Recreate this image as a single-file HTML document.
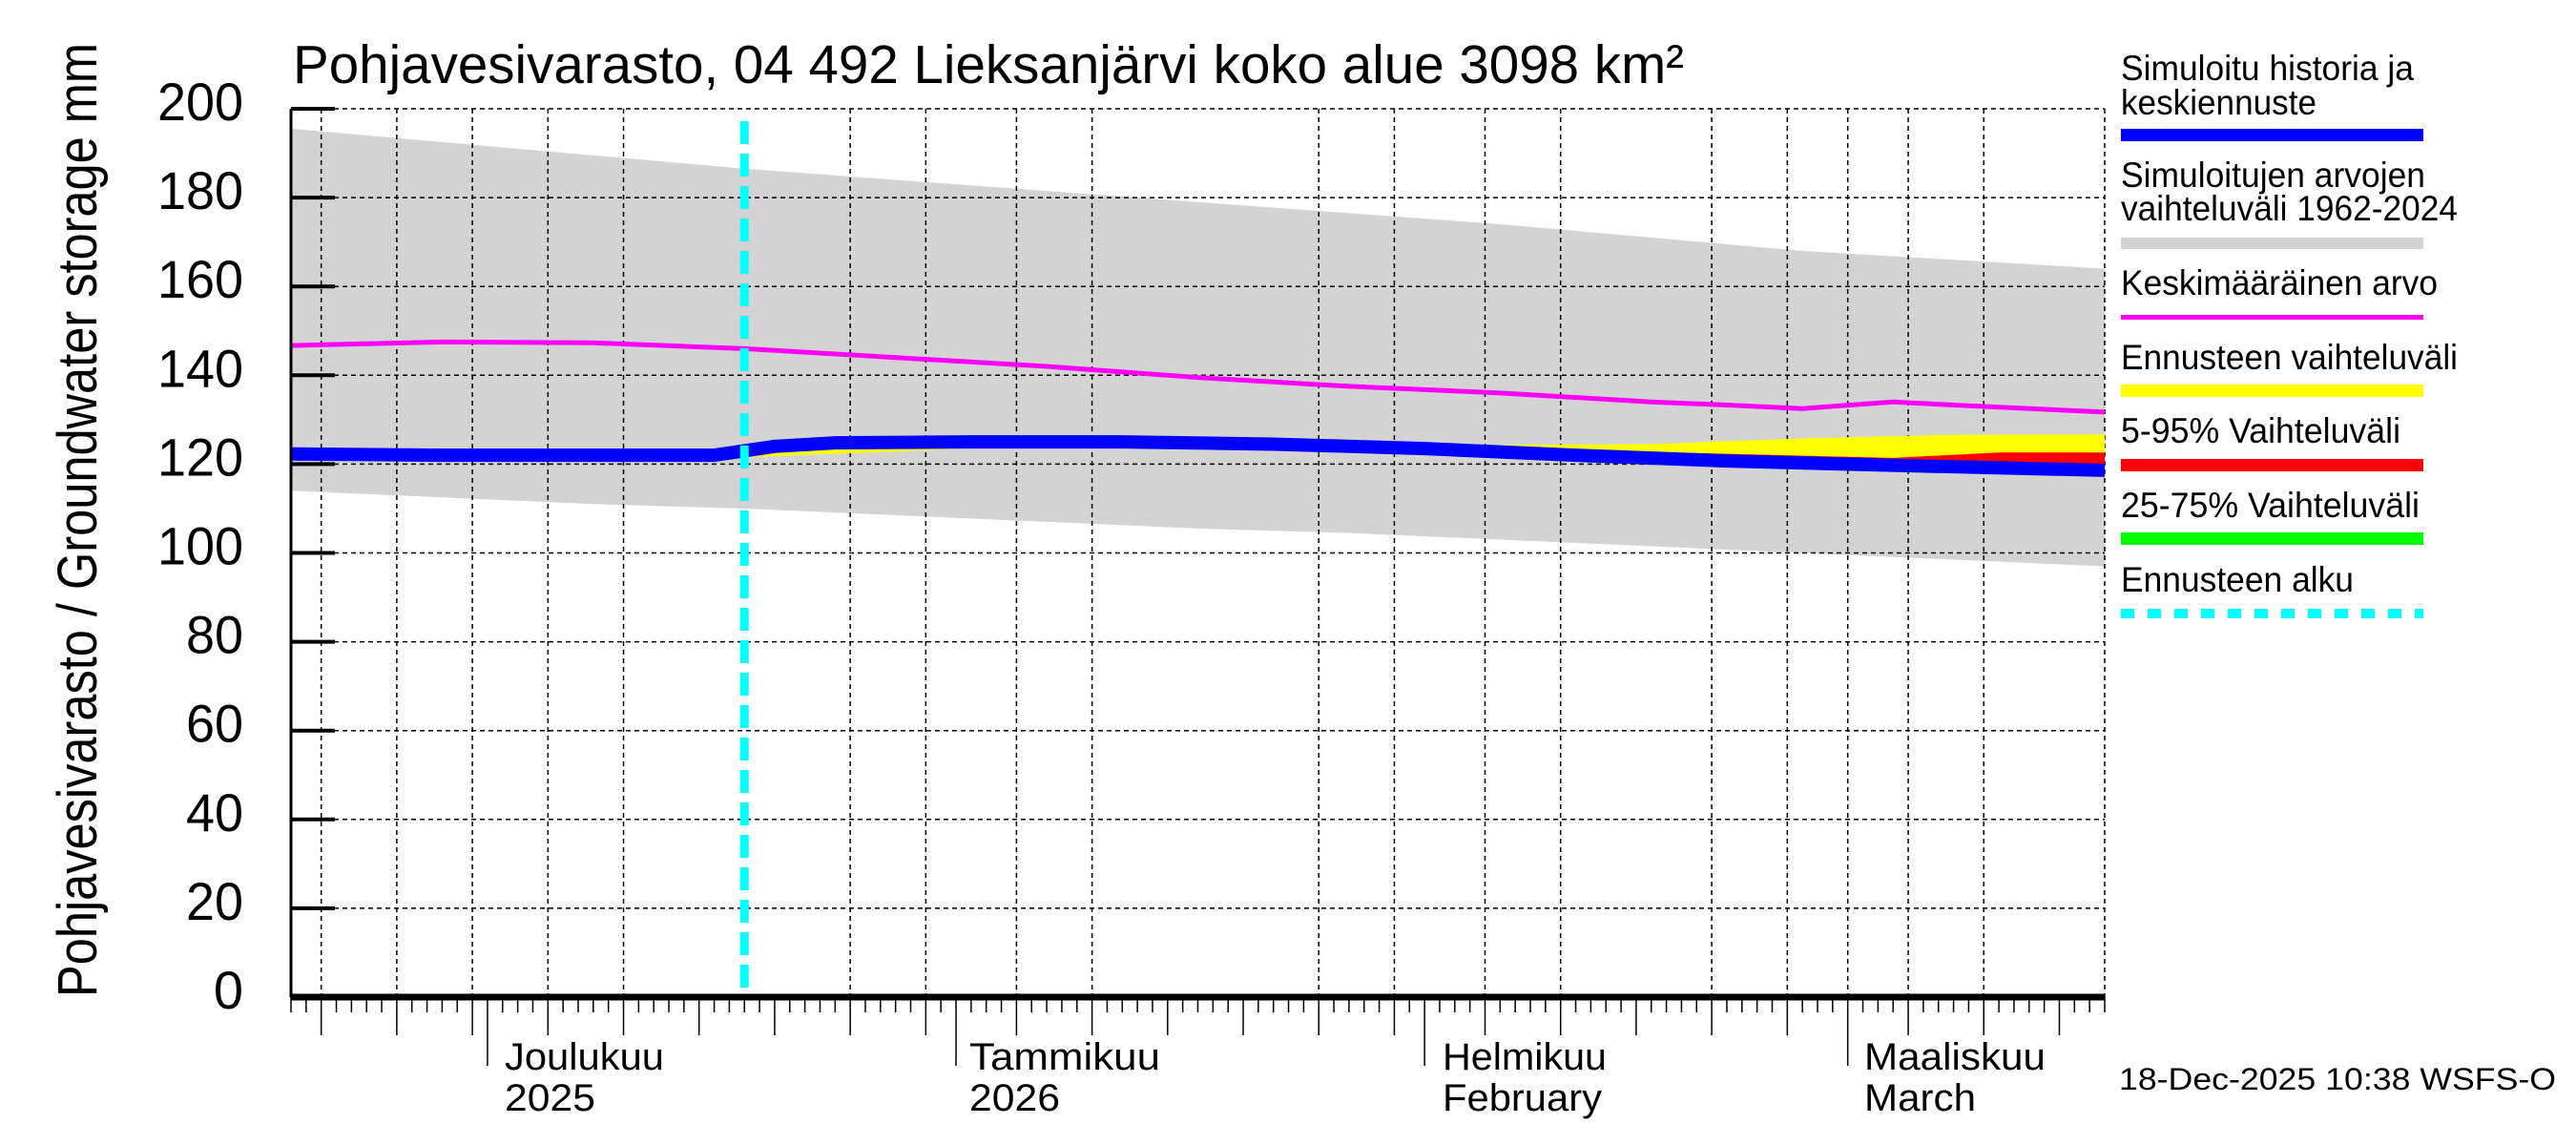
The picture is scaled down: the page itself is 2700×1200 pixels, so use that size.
<!DOCTYPE html>
<html>
<head>
<meta charset="utf-8">
<style>
html,body{margin:0;padding:0;background:#fff;}
svg{display:block;}
text{font-family:"Liberation Sans",Arial,sans-serif;fill:#000;}
</style>
</head>
<body>
<svg id="chart" width="2700" height="1200" viewBox="0 0 2700 1200" xmlns="http://www.w3.org/2000/svg">
  <rect x="0" y="0" width="2700" height="1200" fill="#fff"/>
  <g id="gBand"></g>
  <g id="gGrid"></g>
  <g id="gSeries"></g>
  <g id="gAxes"></g>
  <text x="307" y="87" font-size="57" textLength="1458" lengthAdjust="spacingAndGlyphs">Pohjavesivarasto, 04 492 Lieksanjärvi koko alue 3098 km²</text>
  <text transform="translate(101,1045) rotate(-90)" x="0" y="0" font-size="58" textLength="1000" lengthAdjust="spacingAndGlyphs">Pohjavesivarasto / Groundwater storage   mm</text>
  <g>
    <text x="529" y="1121" font-size="40" textLength="167" lengthAdjust="spacingAndGlyphs">Joulukuu</text>
    <text x="529" y="1164" font-size="40" textLength="95" lengthAdjust="spacingAndGlyphs">2025</text>
    <text x="1016" y="1121" font-size="40" textLength="200" lengthAdjust="spacingAndGlyphs">Tammikuu</text>
    <text x="1016" y="1164" font-size="40" textLength="95" lengthAdjust="spacingAndGlyphs">2026</text>
    <text x="1512" y="1121" font-size="40" textLength="172" lengthAdjust="spacingAndGlyphs">Helmikuu</text>
    <text x="1512" y="1164" font-size="40" textLength="167" lengthAdjust="spacingAndGlyphs">February</text>
    <text x="1954" y="1121" font-size="40" textLength="190" lengthAdjust="spacingAndGlyphs">Maaliskuu</text>
    <text x="1954" y="1164" font-size="40" textLength="117" lengthAdjust="spacingAndGlyphs">March</text>
  </g>
  <text x="2221" y="1142" font-size="32" textLength="458" lengthAdjust="spacingAndGlyphs">18-Dec-2025 10:38 WSFS-O</text>
  <g>
    <text x="2223" y="84" font-size="37" textLength="307" lengthAdjust="spacingAndGlyphs">Simuloitu historia ja</text>
    <text x="2223" y="120" font-size="37" textLength="205" lengthAdjust="spacingAndGlyphs">keskiennuste</text>
    <rect x="2223" y="135" width="317" height="13" fill="#0000ff"/>
    <text x="2223" y="196" font-size="37" textLength="319" lengthAdjust="spacingAndGlyphs">Simuloitujen arvojen</text>
    <text x="2223" y="231" font-size="37" textLength="353" lengthAdjust="spacingAndGlyphs">vaihteluväli 1962-2024</text>
    <rect x="2223" y="249" width="317" height="12" fill="#d3d3d3"/>
    <text x="2223" y="309" font-size="37" textLength="332" lengthAdjust="spacingAndGlyphs">Keskimääräinen arvo</text>
    <rect x="2223" y="330" width="317" height="5" fill="#ff00ff"/>
    <text x="2223" y="387" font-size="37" textLength="353" lengthAdjust="spacingAndGlyphs">Ennusteen vaihteluväli</text>
    <rect x="2223" y="403" width="317" height="13" fill="#ffff00"/>
    <text x="2223" y="464" font-size="37" textLength="293" lengthAdjust="spacingAndGlyphs">5-95% Vaihteluväli</text>
    <rect x="2223" y="481" width="317" height="13" fill="#ff0000"/>
    <text x="2223" y="542" font-size="37" textLength="313" lengthAdjust="spacingAndGlyphs">25-75% Vaihteluväli</text>
    <rect x="2223" y="558" width="317" height="13" fill="#00ff00"/>
    <text x="2223" y="620" font-size="37" textLength="244" lengthAdjust="spacingAndGlyphs">Ennusteen alku</text>
    <line x1="2223" y1="643" x2="2540" y2="643" stroke="#00ffff" stroke-width="10" stroke-dasharray="14 14"/>
  </g>
</svg>
<script>
// ---- data ----
const yTicks = [0, 20, 40, 60, 80, 100, 120, 140, 160, 180, 200];
const rangeDays = [0, 10, 20, 30, 40, 50, 60, 70, 80, 90, 100, 110, 120];
const rangeUpper = [195.5, 192.5, 189.5, 186.5, 184, 181.5, 179, 176.5, 174, 171, 168, 166, 164];
const rangeLower = [114, 112.5, 111, 110, 108.5, 107, 105.5, 104.5, 103, 101.5, 100, 98.5, 97];
const meanDays = [0, 10, 20, 30, 40, 50, 60, 70, 80, 90, 95, 100, 106, 110, 120];
const meanValues = [146.7, 147.5, 147.3, 146, 144, 142, 139.5, 137.5, 136, 134, 133.3, 132.5, 134, 133.3, 131.7];
const simDays = [0, 10, 20, 28, 32, 36, 45, 55, 65, 75, 85, 95, 105, 120];
const simValues = [122.3, 122, 122, 122, 124, 124.8, 125, 125, 124.5, 123.5, 122, 120.7, 119.8, 118.6];
const fcDays = [30, 50, 75, 90, 100, 110, 120];
const fcUpper = [122.5, 125.3, 124.2, 124.5, 125.8, 126.6, 126.7];
const fcLower = [121.5, 124.2, 122.8, 120.8, 119.5, 118.5, 117.8];
const p95Days = [40, 60, 80, 94, 106, 113, 120];
const p95Upper = [124.8, 125.4, 123.5, 122.4, 121.4, 122.6, 122.6];
const p95Lower = [124, 124, 121.8, 120.2, 119.5, 118.6, 117.8];
const gridDays = [2, 7, 12, 17, 22, 37, 42, 48, 53, 68, 73, 79, 84, 94, 99, 103, 107, 112, 120];
const monthStartDays = [13, 44, 75, 103];
const forecastStartDay = 30;
const totalDays = 120;

// ---- axes ----
const X0 = 305, X1 = 2206, Y0 = 1045, Y1 = 114;
const yMax = 200;
function xs(d) { return X0 + d * (X1 - X0) / totalDays; }
function ys(v) { return Y0 - v * (Y0 - Y1) / yMax; }
const NS = "http://www.w3.org/2000/svg";
function mk(tag, parent, attrs) {
  const e = document.createElementNS(NS, tag);
  for (const k in attrs) e.setAttribute(k, attrs[k]);
  parent.appendChild(e);
  return e;
}
function bandPath(days, up, lo) {
  let p = "";
  days.forEach((d, i) => { p += (i ? "L" : "M") + xs(d).toFixed(1) + "," + ys(up[i]).toFixed(1); });
  for (let i = days.length - 1; i >= 0; i--) p += "L" + xs(days[i]).toFixed(1) + "," + ys(lo[i]).toFixed(1);
  return p + "Z";
}
function linePath(days, vals) {
  return days.map((d, i) => (i ? "L" : "M") + xs(d).toFixed(1) + "," + ys(vals[i]).toFixed(1)).join("");
}
const gBand = document.getElementById("gBand");
const gGrid = document.getElementById("gGrid");
const gSeries = document.getElementById("gSeries");
const gAxes = document.getElementById("gAxes");

const band = mk("path", gBand, { d: bandPath(rangeDays, rangeUpper, rangeLower), fill: "#d3d3d3" });



// grid
yTicks.forEach(v => {
  if (v === 0) return;
  const l = mk("line", gGrid, { x1: X0, x2: X1, y1: ys(v), y2: ys(v), stroke: "#000", "stroke-width": 1.5, "stroke-dasharray": "5 4" });
  
  
});
gridDays.forEach(d => {
  const l = mk("line", gGrid, { x1: xs(d), x2: xs(d), y1: Y1, y2: Y0, stroke: "#000", "stroke-width": 1.5, "stroke-dasharray": "5 4" });
  
  
});

// series
const fc = mk("path", gSeries, { d: bandPath(fcDays, fcUpper, fcLower), fill: "#ffff00" });


const p95 = mk("path", gSeries, { d: bandPath(p95Days, p95Upper, p95Lower), fill: "#ff0000" });


const mean = mk("path", gSeries, { d: linePath(meanDays, meanValues), fill: "none", stroke: "#ff00ff", "stroke-width": 5 });


const sim = mk("path", gSeries, { d: linePath(simDays, simValues), fill: "none", stroke: "#0000ff", "stroke-width": 14 });


const cy = mk("line", gSeries, { x1: xs(forecastStartDay), x2: xs(forecastStartDay), y1: 127, y2: Y0, stroke: "#00ffff", "stroke-width": 9, "stroke-dasharray": "24 10" });



// axes
const la = mk("line", gAxes, { x1: X0, x2: X0, y1: Y1, y2: Y0, stroke: "#000", "stroke-width": 3 });


const ba = mk("line", gAxes, { x1: X0, x2: X1, y1: Y0, y2: Y0, stroke: "#000", "stroke-width": 7 });


yTicks.forEach(v => {
  const t = mk("line", gAxes, { x1: X0, x2: X0 + 46, y1: ys(v), y2: ys(v), stroke: "#000", "stroke-width": 4 });
  
  
  const lbl = mk("text", gAxes, { x: 255, y: ys(v) + 12, "font-size": 56, "text-anchor": "end" });
  lbl.textContent = String(v);
  if (String(v).length > 1) { lbl.setAttribute("textLength", String(v).length * 30); lbl.setAttribute("lengthAdjust", "spacingAndGlyphs"); }
  
  
});
function dom(d) {
  if (d <= 12) return 18 + d;
  if (d <= 43) return d - 12;
  if (d <= 74) return d - 43;
  if (d <= 102) return d - 74;
  return d - 102;
}
for (let d = 0; d <= totalDays; d++) {
  let len = 16;
  if (dom(d) % 5 === 0) len = 40;
  if (monthStartDays.indexOf(d) >= 0) len = 72;
  const t = mk("line", gAxes, { x1: xs(d), x2: xs(d), y1: Y0, y2: Y0 + len, stroke: "#000", "stroke-width": 1.5 });
  
  
}
</script>
</body>
</html>
